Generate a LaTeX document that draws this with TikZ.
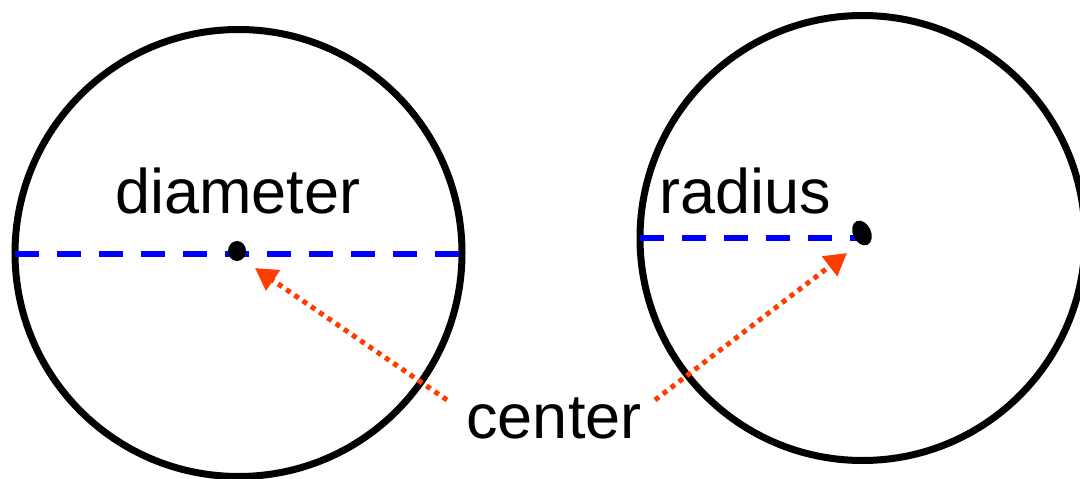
\documentclass[tikz,border=0pt]{standalone}
\usepackage{fontspec}
\setmainfont{Liberation Sans}
\usetikzlibrary{arrows.meta}
\definecolor{ptr}{HTML}{FF3D00}
\tikzset{
  ring/.style={draw=black,line width=7pt},
  cdot/.style={fill=black,draw=none},
  measure/.style={draw=blue,line width=5.5pt,dash pattern=on 24pt off 18pt},
  pointer/.style={draw=ptr,line width=5pt,dash pattern=on 5pt off 5pt,
    -{Triangle[length=22pt,width=24pt,fill=ptr]}},
  lbl/.style={font=\fontsize{63}{72}\selectfont,anchor=base,inner sep=0pt}
}
\begin{document}
\begin{tikzpicture}[x=1pt,y=-1pt]
\useasboundingbox (0,0) rectangle (1080,479);
\fill[white] (0,0) rectangle (1080,479);
% circles
\draw[ring] (238.5,253) circle (223.5);
\draw[ring] (862.5,238) circle (222.5);
% diameter and radius lines
\coordinate (dl) at (15,254);
\coordinate (dr) at (462,254);
\coordinate (rl) at (640,238);
\coordinate (rr) at (858,238);
\draw[measure] (dl) -- (dr);
\draw[measure] (rl) -- (rr);
% center dots
\fill[cdot] (237,251) ellipse (9 and 10);
\node[coordinate] (c1) at (237,251) {};
\fill[cdot,rotate around={25:(862,233)}] (862,233) ellipse (9 and 13);
\node[coordinate] (c2) at (862,233) {};
% labels
\node[lbl] (diam) at (238,213) {diameter};
\node[lbl] (rad) at (745,213) {radius};
\node[lbl] (cen) at (554,438) {center};
% pointers
\coordinate (p1s) at (447,400);
\coordinate (p1e) at (255,268);
\coordinate (p2s) at (655,400);
\coordinate (p2e) at (847,253);
\draw[pointer] (p1s) -- (p1e);
\draw[pointer] (p2s) -- (p2e);
\end{tikzpicture}
\end{document}
